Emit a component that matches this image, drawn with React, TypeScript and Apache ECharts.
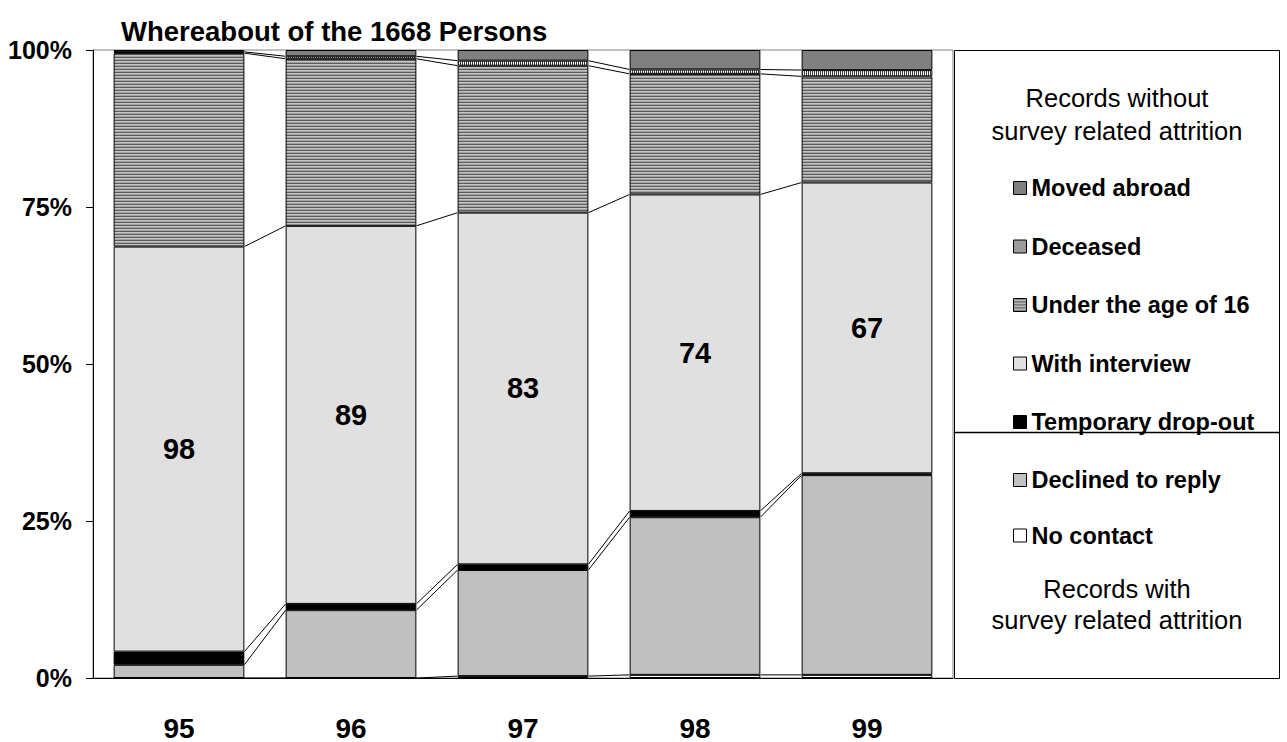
import React, { useEffect, useRef } from "react";
import * as echarts from "echarts";

const years = ["95", "96", "97", "98", "99"];
const noContact = [0, 0, 0.3, 0.5, 0.5];
const declined = [2.1, 10.8, 16.9, 25.1, 31.8];
const dropOut = [2.1, 1.0, 0.9, 1.0, 0.3];
const withInterview = [64.5, 60.2, 56.0, 50.4, 46.3];
const underAge16 = [30.8, 26.6, 23.4, 19.2, 16.9];
const deceased = [0.2, 0.4, 0.8, 0.7, 1.0];
const movedAbroad = [0.3, 1.0, 1.7, 3.1, 3.2];
const interviewLabels = ["98", "89", "83", "74", "67"];
const yTicks = [0, 25, 50, 75, 100];

const FONT = "'Liberation Sans', Arial, sans-serif";
const BAR_FRAC = 0.76;

function stripes(colors: string[], horizontal: boolean) {
  const c = document.createElement("canvas");
  const n = colors.length;
  c.width = horizontal ? 4 : n;
  c.height = horizontal ? n : 4;
  const ctx = c.getContext("2d")!;
  colors.forEach((col, k) => {
    ctx.fillStyle = col;
    if (horizontal) ctx.fillRect(0, k, 4, 1);
    else ctx.fillRect(k, 0, 1, 4);
  });
  return c;
}

export default function App() {
  const ref = useRef<HTMLDivElement>(null);
  useEffect(() => {
    if (!ref.current) return;
    document.body.style.margin = "0";
    const chart = echarts.init(ref.current, null, { renderer: "svg" });

    const underPattern = { image: stripes(["#5c5c5c", "#c4c4c4", "#a4a4a4"], true), repeat: "repeat" };
    const decPattern = { image: stripes(["#3a3a3a", "#ffffff"], false), repeat: "repeat" };

    const stackDefs = [
      { name: "No contact", data: noContact, color: "#ffffff" },
      { name: "Declined to reply", data: declined, color: "#c0c0c0" },
      { name: "Temporary drop-out", data: dropOut, color: "#000000" },
      { name: "With interview", data: withInterview, color: "#e0e0e0" },
      { name: "Under the age of 16", data: underAge16, color: underPattern },
      { name: "Deceased", data: deceased, color: decPattern },
      { name: "Moved abroad", data: movedAbroad, color: "#808080" },
    ];

    // series-line data: cumulative levels between neighbouring bars
    const lineData: number[][] = [];
    const cum = years.map(() => 0);
    stackDefs.slice(0, stackDefs.length - 1).forEach((s) => {
      s.data.forEach((v, i) => (cum[i] += v));
      for (let i = 0; i < years.length - 1; i++) {
        lineData.push([i, cum[i], cum[i + 1]]);
      }
    });

    const barSeries = stackDefs.map((s) => ({
      name: s.name,
      type: "bar",
      stack: "all",
      barWidth: BAR_FRAC * 100 + "%",
      data: s.data,
      itemStyle: { color: s.color, borderColor: "#000", borderWidth: 1 },
      emphasis: { disabled: true },
      label:
        s.name === "With interview"
          ? {
              show: true,
              position: "inside",
              formatter: (p: any) => interviewLabels[p.dataIndex],
              fontSize: 29,
              fontWeight: "bold",
              fontFamily: FONT,
              color: "#000",
            }
          : { show: false },
    }));

    const legendCommon = {
      orient: "vertical",
      icon: "rect",
      itemWidth: 13,
      itemHeight: 13,
      selectedMode: false,
      itemStyle: { borderColor: "#000", borderWidth: 1 },
      textStyle: { fontSize: 23.5, fontWeight: "bold", fontFamily: FONT, color: "#000" },
    };

    const headerText = (t: string, y: number) => ({
      type: "text",
      x: 1117,
      y,
      style: {
        text: t,
        fill: "#000",
        font: `25.5px ${FONT}`,
        textAlign: "center",
        textVerticalAlign: "middle",
      },
    });

    chart.setOption({
      animation: false,
      backgroundColor: "#fff",
      title: {
        text: "Whereabout of the 1668 Persons",
        left: 116,
        top: 12,
        textStyle: { fontSize: 27.5, fontWeight: "bold", fontFamily: FONT, color: "#000", lineHeight: 28 },
      },
      grid: {
        left: 93,
        top: 50,
        width: 860,
        height: 629,
        show: true,
        borderColor: "#808080",
        borderWidth: 1,
      },
      xAxis: {
        type: "category",
        data: years,
        axisLine: { lineStyle: { color: "#000", width: 1 } },
        axisTick: { show: false },
        axisLabel: { fontSize: 28, fontWeight: "bold", fontFamily: FONT, color: "#000", margin: 36 },
      },
      yAxis: {
        type: "value",
        min: yTicks[0],
        max: yTicks[yTicks.length - 1],
        interval: 25,
        axisLine: { show: true, lineStyle: { color: "#000", width: 1 } },
        axisTick: { show: true, length: 7, lineStyle: { color: "#000" } },
        splitLine: { show: false },
        axisLabel: {
          formatter: "{value}%",
          fontSize: 25,
          fontWeight: "bold",
          fontFamily: FONT,
          color: "#000",
          margin: 21,
        },
      },
      legend: [
        {
          ...legendCommon,
          left: 1008,
          top: 171,
          itemGap: 34.5,
          data: ["Moved abroad", "Deceased", "Under the age of 16", "With interview", "Temporary drop-out"],
        },
        {
          ...legendCommon,
          left: 1008,
          top: 463,
          itemGap: 31.5,
          data: ["Declined to reply", "No contact"],
        },
      ],
      graphic: [
        {
          type: "rect",
          shape: { x: 954.5, y: 50.5, width: 325, height: 628 },
          style: { fill: "none", stroke: "#000", lineWidth: 1 },
        },
        {
          type: "line",
          shape: { x1: 954.5, y1: 432.5, x2: 1279.5, y2: 432.5 },
          style: { stroke: "#000", lineWidth: 1.5 },
        },
        headerText("Records without", 98),
        headerText("survey related attrition", 131),
        headerText("Records with", 589),
        headerText("survey related attrition", 620),
      ],
      series: [
        ...barSeries,
        {
          type: "custom",
          name: "series lines",
          data: lineData,
          encode: { x: 0, y: [1, 2] },
          silent: true,
          z: 3,
          renderItem: (_p: any, api: any) => {
            const i = api.value(0);
            const a = api.value(1);
            const b = api.value(2);
            const p1 = api.coord([i, a]);
            const p2 = api.coord([i + 1, b]);
            const half = (api.size([1, 0])[0] * BAR_FRAC) / 2;
            return {
              type: "line",
              shape: { x1: p1[0] + half, y1: p1[1], x2: p2[0] - half, y2: p2[1] },
              style: { stroke: "#000", lineWidth: 1 },
            };
          },
        },
      ],
    });
    return () => chart.dispose();
  }, []);
  return <div ref={ref} style={{ width: 1287, height: 742 }} />;
}
